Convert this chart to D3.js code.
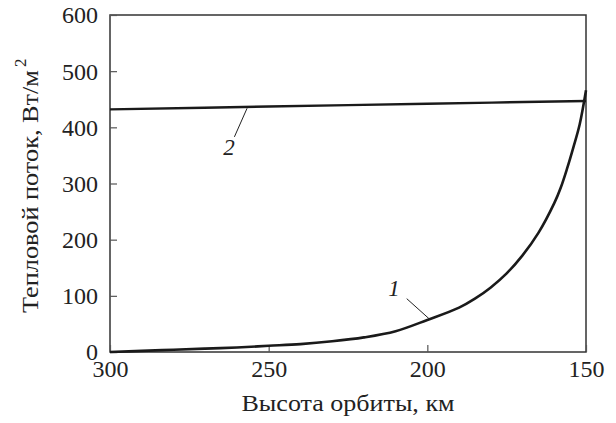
<!DOCTYPE html>
<html><head><meta charset="utf-8">
<script src="https://cdn.jsdelivr.net/npm/d3@7"></script>
<style>body{margin:0;background:#fff}svg{display:block}text{font-family:"Liberation Serif","Times New Roman",serif;fill:#222}</style>
</head><body>
<script>
// Curve 1 (altitude km, heat flux W/m2)
const alt1 = [300, 290, 280, 270, 260, 250, 240, 230, 220, 210, 200, 190, 185, 180, 175, 170, 165, 160, 158, 156, 154, 152, 150];
const flux1 = [0, 2, 4, 6, 8, 11, 14, 19, 26, 37, 57, 79, 95, 115, 140, 172, 212, 265, 292, 326, 364, 405, 466];
// Curve 2
const alt2 = [300, 250, 200, 150];
const flux2 = [432, 437, 442, 447];
const xTicks = [300, 250, 200, 150];
const yTicks = [0, 100, 200, 300, 400, 500, 600];
const xTitle = "Высота орбиты, км";
const yTitle = "Тепловой поток, Вт/м";
const yTitleSup = "2";
const labels = [
  {text: "1", alt: 210.5, flux: 100, lineFrom: [206.5, 95], lineTo: [199.2, 58]},
  {text: "2", alt: 262.5, flux: 350, lineFrom: [260.8, 383], lineTo: [256.8, 434]}
];

const FONT = '"Liberation Serif", "Times New Roman", serif';
const W = 616, H = 423;
const m = {left: 110, right: 30, top: 15, bottom: 71};
const svg = d3.select("body").append("svg").attr("width", W).attr("height", H);
const x = d3.scaleLinear().domain([300, 150]).range([m.left, W - m.right]);
const y = d3.scaleLinear().domain([0, 600]).range([H - m.bottom, m.top]);

// frame
svg.append("rect").attr("x", m.left).attr("y", m.top)
  .attr("width", W - m.right - m.left).attr("height", H - m.bottom - m.top)
  .attr("fill", "none").attr("stroke", "#333").attr("stroke-width", 1.5);

// axes
const xAxis = svg.append("g").attr("transform", `translate(0,${H - m.bottom})`)
  .call(d3.axisBottom(x).tickValues(xTicks).tickSize(-7).tickPadding(14).tickFormat(d3.format("d")));
const yAxis = svg.append("g").attr("transform", `translate(${m.left},0)`)
  .call(d3.axisLeft(y).tickValues(yTicks).tickSize(-7).tickPadding(12).tickFormat(d3.format("d")));
[xAxis, yAxis].forEach(g => {
  g.attr("font-family", FONT);
  g.select(".domain").remove();
  g.selectAll(".tick line").attr("stroke", "#555").attr("stroke-width", 1.2);
  g.selectAll(".tick text").style("font-family", FONT).style("font-size", "24px").attr("fill", "#222");
});
xAxis.selectAll(".tick text").attr("dy", "0").attr("y", 25);
yAxis.selectAll(".tick text").attr("dy", "0.33em");

// titles
svg.append("text").attr("x", (m.left + W - m.right) / 2).attr("y", 411)
  .attr("text-anchor", "middle").style("font-family", FONT).style("font-size", "23px")
  .attr("textLength", 213).attr("lengthAdjust", "spacingAndGlyphs").text(xTitle);
svg.append("text").attr("transform", `translate(38,313) rotate(-90)`)
  .attr("text-anchor", "start").style("font-family", FONT).style("font-size", "23px")
  .attr("textLength", 243).attr("lengthAdjust", "spacingAndGlyphs").text(yTitle);
svg.append("text").attr("transform", `translate(26,67) rotate(-90)`)
  .attr("text-anchor", "start").style("font-family", FONT).style("font-size", "17px").text(yTitleSup);

// lines
const line = d3.line().x(d => x(d[0])).y(d => y(d[1])).curve(d3.curveCatmullRom.alpha(0.5));
const d1 = alt1.map((a, i) => [a, flux1[i]]);
const d2 = alt2.map((a, i) => [a, flux2[i]]);
svg.append("path").attr("d", line(d2)).attr("fill", "none").attr("stroke", "#1a1a1a").attr("stroke-width", 2.4);
svg.append("path").attr("d", line(d1)).attr("fill", "none").attr("stroke", "#1a1a1a").attr("stroke-width", 2.6);

// labels
labels.forEach(l => {
  svg.append("line").attr("x1", x(l.lineFrom[0])).attr("y1", y(l.lineFrom[1]))
    .attr("x2", x(l.lineTo[0])).attr("y2", y(l.lineTo[1]))
    .attr("stroke", "#222").attr("stroke-width", 1);
  svg.append("text").attr("x", x(l.alt)).attr("y", y(l.flux))
    .attr("text-anchor", "middle").style("font-family", FONT).style("font-size", "23px").style("font-style", "italic").text(l.text);
});
</script>
</body></html>
